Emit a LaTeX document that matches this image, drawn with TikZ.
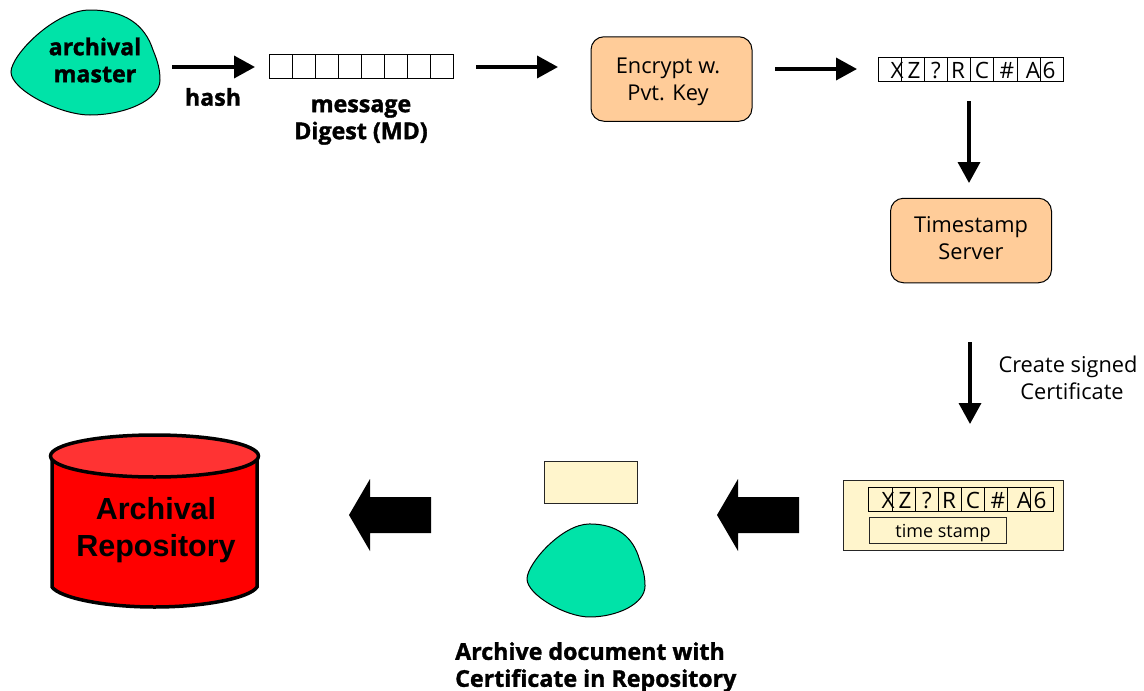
\documentclass[tikz,border=0pt]{standalone}
\usepackage{fontspec}
\setmainfont[BoldFeatures={FakeBold=1.4}]{Open Sans}
\newfontfamily\arialfont{Liberation Sans}
\usetikzlibrary{arrows.meta}
\definecolor{blobgreen}{HTML}{00E3A8}
\definecolor{peach}{HTML}{FFCC99}
\definecolor{cream}{HTML}{FFF5CC}
\newcommand{\blobshape}{(90,10) .. controls (125,10) and (145,25) .. (153,50) .. controls (158,62) and (160,70) .. (160,80) .. controls (160,100) and (125,115) .. (90,115) .. controls (60,115) and (11,90) .. (11,72) .. controls (11,55) and (55,10) .. (90,10) -- cycle}
\newcommand{\bigarrow}[1]{\fill[black,shift={(#1,0)}] (349,515) -- (370,479) -- (370,497) -- (431,497) -- (431,533) -- (370,533) -- (370,551) -- cycle;}
\tikzset{
  blob/.style={draw=black,fill=blobgreen,line width=1pt},
  flow/.style={draw=black,line width=3.6pt,-{Triangle[length=21pt,width=22pt]}},
  cellbox/.style={draw=black,line width=1pt,minimum width=23.1pt,minimum height=23.5pt,inner sep=0pt,outer sep=0pt},
  procbox/.style={draw=black,fill=peach,line width=1pt,rounded corners=13pt,minimum width=161pt,minimum height=84.5pt,inner sep=0pt},
  creambox/.style={draw=black!85,fill=cream,line width=1pt,inner sep=0pt},
  boldlabel/.style={font=\fontsize{23.2}{27}\selectfont\bfseries,align=center,inner sep=0pt},
  plainlabel/.style={font=\fontsize{21.8}{27}\selectfont,align=center,inner sep=0pt},
  glyph/.style={font=\fontsize{22.5}{24}\selectfont,inner sep=0pt},
}
\begin{document}
\begin{tikzpicture}[x=1pt,y=-1pt]
\useasboundingbox (0,0) rectangle (1144,691);
% top row
\draw[blob] \blobshape;
\node[boldlabel] (master) at (95,60) {archival\\master};
\foreach \i in {0,...,7} \node[cellbox] (d\i) at ({281+23*\i},66.5) {};
\node[boldlabel] (hash) at (213,97) {hash};
\node[boldlabel] (digest) at (361,122) {message\\Digest (MD)};
\node[procbox] (encrypt) at (671.5,79) {};
\node[plainlabel] (encrypttext) at (668,82) {Encrypt w.\\Pvt. Key};
\foreach \i in {0,...,7} \node[cellbox] (e\i) at ({890+23.1*\i},69.5) {};
\foreach \t/\x in {X/897,Z/914,?/936,R/958,C/982,\#/1007,A/1033,6/1049}
  \node[glyph,anchor=base] (g\x) at (\x,78) {\t};
\node[procbox] (timestamp) at (971,240.5) {};
\node[plainlabel] at (971,238) (timestamptext) {Timestamp\\Server};
% connectors
\coordinate (a1s) at (172,67); \coordinate (a1e) at (255,67);
\coordinate (a2s) at (476,67); \coordinate (a2e) at (558,67);
\coordinate (a3s) at (775,69); \coordinate (a3e) at (857,69);
\coordinate (a4s) at (969,101); \coordinate (a4e) at (969,183);
\coordinate (a5s) at (970,342); \coordinate (a5e) at (970,424);
\draw[flow] (a1s) -- (a1e);
\draw[flow] (a2s) -- (a2e);
\draw[flow] (a3s) -- (a3e);
\draw[flow] (a4s) -- (a4e);
\draw[flow] (a5s) -- (a5e);
\node[plainlabel] (create) at (1068,378) {Create signed\\\hspace*{8pt}Certificate};
% certificate
\node[creambox,minimum width=220pt,minimum height=70pt] (cert) at (953,515) {};
\foreach \i in {0,...,7} \node[cellbox] (c\i) at ({880.5+23.1*\i},499.5) {};
\foreach \t/\x in {X/888,Z/905,?/927,R/949,C/973,\#/998,A/1024,6/1040}
  \node[glyph,anchor=base] (h\x) at (\x,508) {\t};
\node[creambox,minimum width=137pt,minimum height=25.5pt] (stamp) at (937.5,530.5) {};
\node[font=\fontsize{18}{22}\selectfont,inner sep=0pt] (stamptext) at (943,533) {time stamp};
% big arrows
\bigarrow{368}
\bigarrow{0}
% archive document
\node[creambox,minimum width=93pt,minimum height=42pt] (cert2) at (591,482.5) {};
\begin{scope}[shift={(518.3,515.1)},xscale=.792,yscale=.886]
\draw[blob] \blobshape;
\end{scope}
\node[boldlabel,align=left,anchor=north west] (archivedoc) at (455,642) {Archive document with\\Certificate in Repository};
% repository
\fill[red] (52,456) -- (52,587) .. controls (60,598) and (105,607) .. (154.5,607) .. controls (204,607) and (250,598) .. (257,587) -- (257,456) -- cycle;
\draw[black,line width=3.5pt] (52,456) -- (52,587) .. controls (60,598) and (105,607) .. (154.5,607) .. controls (204,607) and (250,598) .. (257,587) -- (257,456);
\draw[black,fill=red!80!white,line width=3.5pt] (154.5,456) ellipse [x radius=104,y radius=21];
\node[font=\arialfont\fontsize{30.5}{37}\selectfont\bfseries,align=center,inner sep=0pt] (repo) at (156,530) {Archival\\Repository};
\end{tikzpicture}
\end{document}
